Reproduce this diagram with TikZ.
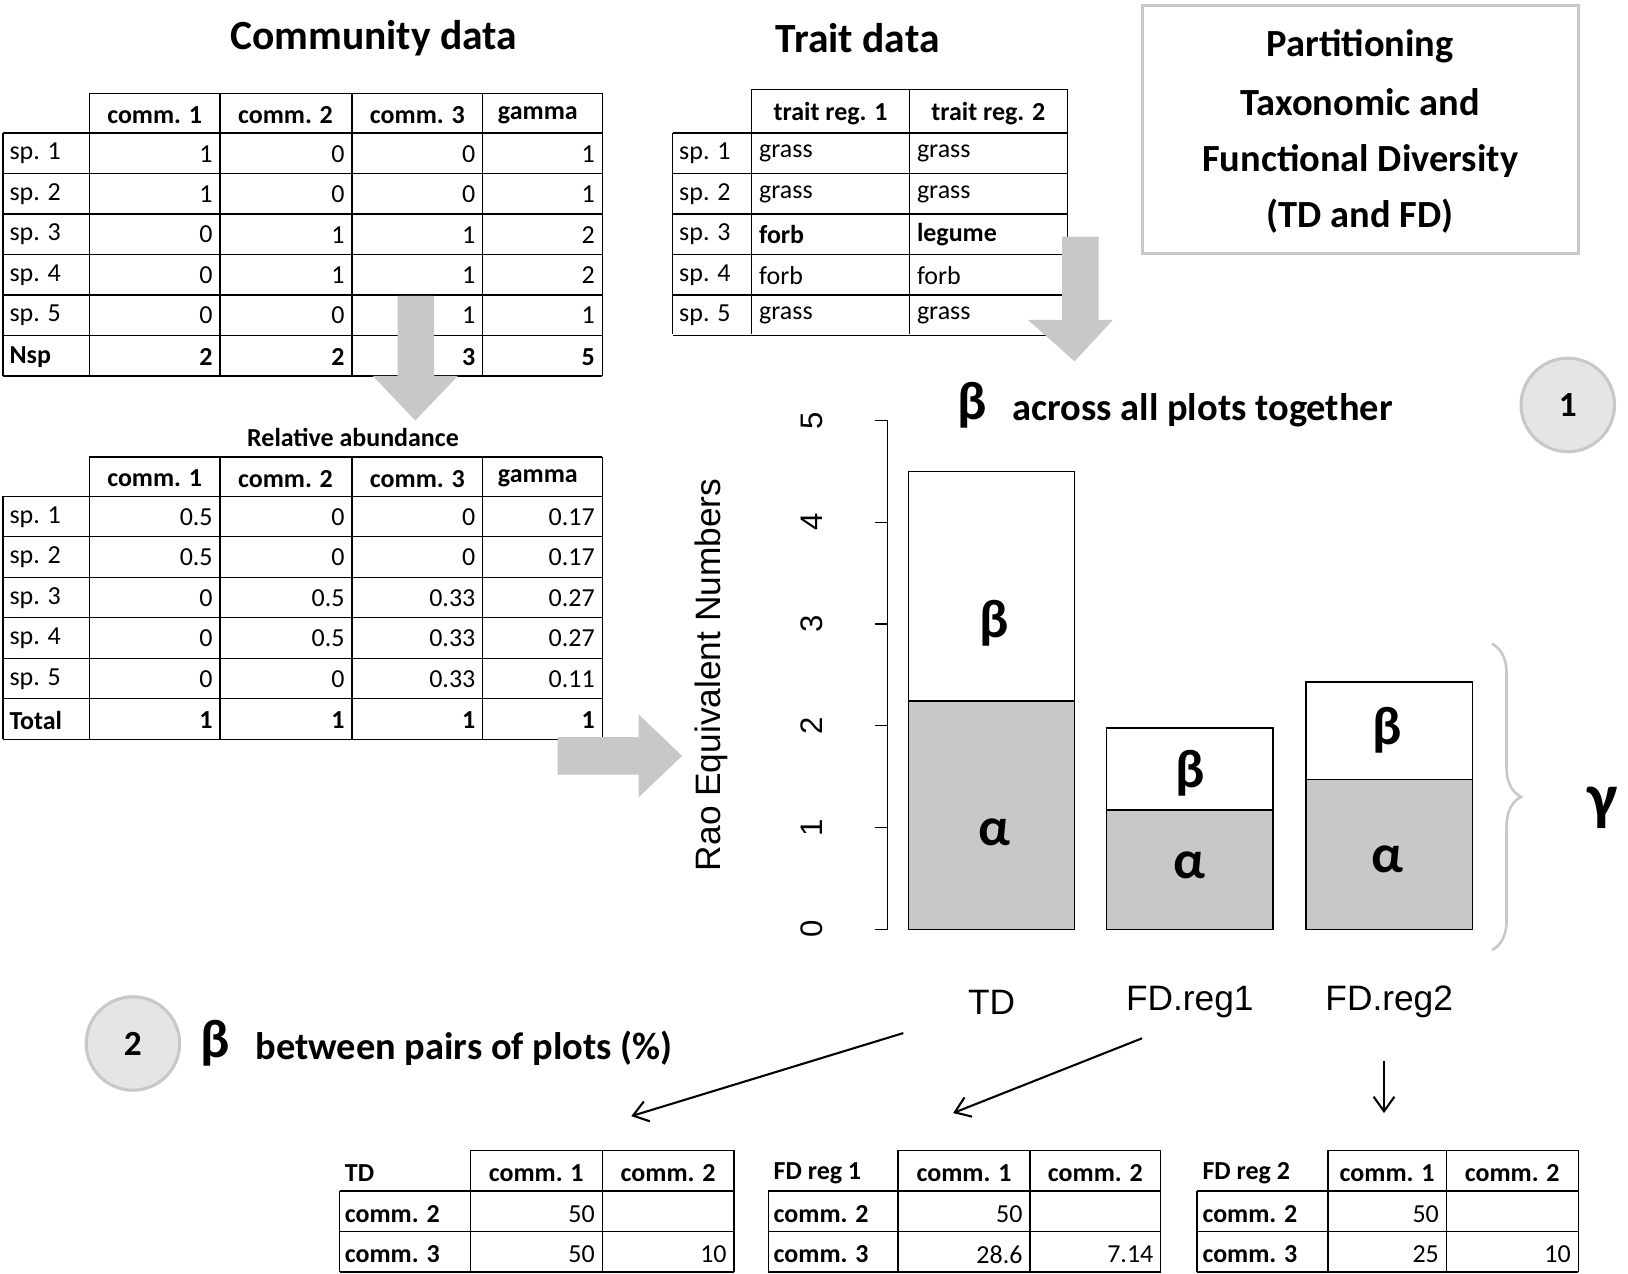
\documentclass[tikz,border=0pt]{standalone}
\usepackage{fontspec}
\setmainfont{Carlito}
\newfontfamily\arial{Liberation Sans}
\usetikzlibrary{decorations.pathreplacing,arrows.meta,calc}
\definecolor{lg}{HTML}{C8C8C8}
\begin{document}
\begin{tikzpicture}[x=1pt,y=-1pt,
  tb/.style={line width=1.3pt},
  cell/.style={inner sep=0pt,font=\fontsize{25}{28}\selectfont},
  hd/.style={inner sep=0pt,font=\fontsize{25}{28}\selectfont\bfseries},
  ttl/.style={inner sep=0pt,font=\fontsize{40}{44}\selectfont\bfseries},
  blk/.style={fill=lg,draw=none},
  greek/.style={inner sep=0pt,font=\fontsize{52}{56}\selectfont\bfseries},
  circ/.style={circle,fill=black!10,draw=lg,line width=3pt,minimum size=90pt,font=\fontsize{34}{36}\selectfont\bfseries},
  bar/.style={draw,line width=1.3pt},
  tk/.style={inner sep=0pt,font=\arial\fontsize{30}{32}\selectfont,rotate=90}]
\useasboundingbox (0,0) rectangle (1568,1227);
% titles
\node[ttl] (t1) at (360,37) {Community data};
\node[ttl] (t2) at (826,37) {Trait data};
\node[draw=lg,line width=3pt,minimum width=420pt,minimum height=239pt] (box) at (1310,125) {};
\foreach \y/\t in {45/Partitioning,98/Taxonomic and,155/Functional Diversity,208/(TD and FD)}
  \node[inner sep=0pt,font=\fontsize{37}{40}\selectfont\bfseries] at (1310,\y) {\t};
% ---- community table
\draw[tb] (86,90) -- (580,90);
\foreach \k in {0,...,6} \draw[tb] (3,128+39*\k) -- (580,128+39*\k);
\draw[tb] (3,128) -- (3,362);
\foreach \x in {86,212,339,465,580} \draw[tb] (\x,90) -- (\x,362);
\foreach \x/\t in {149/comm. 1,275/comm. 2,402/comm. 3,518/gamma} \node[hd] at (\x,111) {\t};
\foreach \i/\l/\a/\b/\c/\d in {1/sp. 1/1/0/0/1,2/sp. 2/1/0/0/1,3/sp. 3/0/1/1/2,4/sp. 4/0/1/1/2,5/sp. 5/0/0/1/1}{
  \pgfmathsetmacro\yy{128+39*(\i-1)+20}
  \node[cell,anchor=west] at (9,\yy) {\l};
  \node[cell,anchor=east] at (205,\yy) {\a};
  \node[cell,anchor=east] at (332,\yy) {\b};
  \node[cell,anchor=east] at (458,\yy) {\c};
  \node[cell,anchor=east] at (573,\yy) {\d};}
\node[hd,anchor=west] at (9,344) {Nsp};
\foreach \x/\v in {205/2,332/2,458/3,573/5} \node[hd,anchor=east] at (\x,344) {\v};
% ---- relative abundance
\node[hd] (ra) at (340,421) {Relative abundance};
\draw[tb] (86,440) -- (580,440);
\foreach \k in {0,...,6} \draw[tb] (3,478+39*\k) -- (580,478+39*\k);
\draw[tb] (3,478) -- (3,712);
\foreach \x in {86,212,339,465,580} \draw[tb] (\x,440) -- (\x,712);
\foreach \x/\t in {149/comm. 1,275/comm. 2,402/comm. 3,518/gamma} \node[hd] at (\x,461) {\t};
\foreach \i/\l/\a/\b/\c/\d in {1/sp. 1/0.5/0/0/0.17,2/sp. 2/0.5/0/0/0.17,3/sp. 3/0/0.5/0.33/0.27,4/sp. 4/0/0.5/0.33/0.27,5/sp. 5/0/0/0.33/0.11}{
  \pgfmathsetmacro\yy{478+39*(\i-1)+20}
  \node[cell,anchor=west] at (9,\yy) {\l};
  \node[cell,anchor=east] at (205,\yy) {\a};
  \node[cell,anchor=east] at (332,\yy) {\b};
  \node[cell,anchor=east] at (458,\yy) {\c};
  \node[cell,anchor=east] at (573,\yy) {\d};}
\node[hd,anchor=west] at (9,694) {Total};
\foreach \x in {205,332,458,573} \node[hd,anchor=east] at (\x,694) {1};
% ---- trait table
\draw[tb] (724,86) -- (1028,86);
\foreach \k in {0,...,5} \draw[tb] (648,128+39*\k) -- (1028,128+39*\k);
\draw[tb] (648,128) -- (648,322);
\foreach \x in {724,876,1028} \draw[tb] (\x,86) -- (\x,322);
\foreach \x/\t in {800/trait reg. 1,952/trait reg. 2} \node[hd] at (\x,109) {\t};
\foreach \i/\l/\a/\b in {1/sp. 1/grass/grass,2/sp. 2/grass/grass,4/sp. 4/forb/forb,5/sp. 5/grass/grass,3/sp. 3//}{
  \pgfmathsetmacro\yy{128+39*(\i-1)+20}
  \node[cell,anchor=west] at (654,\yy) {\l};
  \node[cell,anchor=west] at (731,\yy) {\a};
  \node[cell,anchor=west] at (883,\yy) {\b};}
\node[hd,anchor=west] at (731,226) {forb};
\node[hd,anchor=west] at (883,226) {legume};
% ---- gray block arrows
\fill[blk] (383,285) -- (418,285) -- (418,362) -- (441,362) -- (400,405) -- (359,362) -- (383,362) -- cycle;
\fill[blk] (1023,228) -- (1058,228) -- (1058,308) -- (1072,308) -- (1035,348) -- (990,308) -- (1023,308) -- cycle;
\fill[blk] (537,710) -- (615,710) -- (615,688) -- (657,728) -- (615,768) -- (615,746) -- (537,746) -- cycle;
% ---- chart
\draw[line width=1.3pt] (855,895) -- (855,405);
\foreach \v in {0,...,5}{
  \draw[line width=1.3pt] (855,895-98*\v) -- (843,895-98*\v);
  \node[tk] at (782,895-98*\v) {\v};}
\node[tk,font=\arial\fontsize{34}{36}\selectfont] (yl) at (685,650) {Rao Equivalent Numbers};
\draw[bar,fill=white] (875,454) rectangle (1035,895);
\draw[bar,fill=lg] (875,675) rectangle (1035,895);
\draw[bar,fill=white] (1066,701) rectangle (1226,895);
\draw[bar,fill=lg] (1066,780) rectangle (1226,895);
\draw[bar,fill=white] (1258,657) rectangle (1418,895);
\draw[bar,fill=lg] (1258,751) rectangle (1418,895);
\node[greek] at (958,600) {β}; \node[greek] at (958,802) {α};
\node[greek] at (1146,745) {β}; \node[greek] at (1146,833) {α};
\node[greek] at (1336,703) {β}; \node[greek] at (1336,828) {α};
\node[inner sep=0pt,font=\arial\fontsize{34}{36}\selectfont] (bTD) at (955,965) {TD};
\node[inner sep=0pt,font=\arial\fontsize{34}{36}\selectfont] (bF1) at (1146,965) {FD.reg1};
\node[inner sep=0pt,font=\arial\fontsize{34}{36}\selectfont] (bF2) at (1338,965) {FD.reg2};
\draw[lg,line width=2.5pt,decorate,decoration={brace,amplitude=28pt}] (1437,620) -- (1437,915);
\node[inner sep=0pt,font=\fontsize{62}{64}\selectfont\bfseries] (gam) at (1543,778) {γ};
% headings with circles
\node[greek,anchor=west] at (922,390) {β};
\node[inner sep=0pt,anchor=west,font=\fontsize{37}{40}\selectfont\bfseries] at (975,395) {across all plots together};
\node[circ] (c1) at (1510,390) {1};
\node[circ] (c2) at (128,1005) {2};
\node[greek,anchor=west] at (193,1005) {β};
\node[inner sep=0pt,anchor=west,font=\fontsize{37}{40}\selectfont\bfseries] at (246,1010) {between pairs of plots (\%)};
% black arrows
\coordinate (a1s) at (870,995); \coordinate (a1e) at (608,1075);
\coordinate (a2s) at (1100,1000); \coordinate (a2e) at (918,1072);
\coordinate (a3s) at (1333,1022); \coordinate (a3e) at (1333,1072);
\foreach \s/\e in {a1s/a1e,a2s/a2e,a3s/a3e}
  \draw[line width=2pt,-{Straight Barb[length=14pt,width=20pt,line width=2pt]}] (\s) -- (\e);
% ---- bottom tables
\foreach \xa/\xb/\xc/\xd/\t/\v/\w/\u in {327/453/580/707/TD/50/10/50,740/865/992/1118/FD reg 1/28.6/7.14/50,1153/1279/1393/1520/FD reg 2/25/10/50}{
  \draw[tb] (\xb,1108) -- (\xd,1108);
  \foreach \y in {1147,1186,1225} \draw[tb] (\xa,\y) -- (\xd,\y);
  \draw[tb] (\xa,1147) -- (\xa,1225);
  \foreach \x in {\xb,\xc,\xd} \draw[tb] (\x,1108) -- (\x,1225);
  \node[hd,anchor=west] at (\xa+5,1130) {\t};
  \node[hd,anchor=west] at (\xa+5,1169) {comm. 2};
  \node[hd,anchor=west] at (\xa+5,1208) {comm. 3};
  \node[hd] at ($(\xb,1130)!0.5!(\xc,1130)$) {comm. 1};
  \node[hd] at ($(\xc,1130)!0.5!(\xd,1130)$) {comm. 2};
  \node[cell,anchor=east] at (\xc-7,1169) {\u};
  \node[cell,anchor=east] at (\xc-7,1208) {\v};
  \node[cell,anchor=east] at (\xd-7,1208) {\w};}
\end{tikzpicture}
\end{document}
